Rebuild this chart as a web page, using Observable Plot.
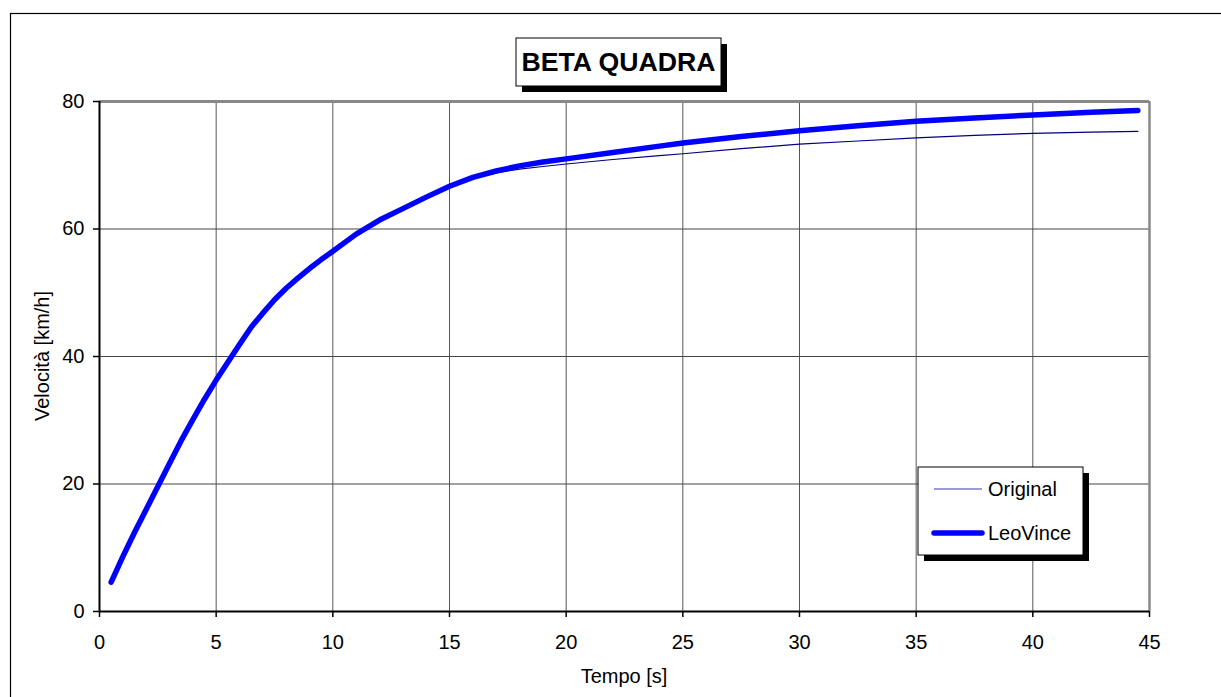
<!DOCTYPE html>
<html><head><meta charset="utf-8">
<script src="https://cdn.jsdelivr.net/npm/d3@7"></script>
<script src="https://cdn.jsdelivr.net/npm/@observablehq/plot@0.6"></script>
<style>body{margin:0;background:#fff;overflow:hidden} svg{display:block}</style>
</head><body><div id="chart"></div>
<script>
// ---- data ----
const chartTitle = "BETA QUADRA";
const xLabel = "Tempo [s]";
const yLabel = "Velocità [km/h]";
const seriesNames = ["Original", "LeoVince"];
const xTicks = [0, 5, 10, 15, 20, 25, 30, 35, 40, 45];
const yTicks = [0, 20, 40, 60, 80];

const timeLeo  = [0.5, 1, 1.5, 2, 2.5, 3, 3.5, 4, 4.5, 5, 5.5, 6, 6.5, 7, 7.5, 8, 8.5, 9, 9.5, 10, 11, 12, 13, 14, 15, 16, 17, 18, 19, 20, 22, 24, 25, 27.5, 30, 32.5, 35, 37.5, 40, 42.5, 44.5];
const speedLeo = [4.6, 8.6, 12.4, 16.0, 19.6, 23.2, 26.8, 30.1, 33.3, 36.3, 39.1, 41.9, 44.6, 46.8, 48.9, 50.7, 52.3, 53.8, 55.2, 56.5, 59.2, 61.4, 63.2, 65.0, 66.7, 68.1, 69.1, 69.9, 70.5, 71.0, 72.0, 73.0, 73.5, 74.5, 75.4, 76.2, 76.9, 77.4, 77.9, 78.3, 78.6];

const timeOrig  = [0.5, 1, 1.5, 2, 2.5, 3, 3.5, 4, 4.5, 5, 5.5, 6, 6.5, 7, 7.5, 8, 8.5, 9, 9.5, 10, 11, 12, 13, 14, 15, 16, 17, 18, 19, 20, 22, 24, 25, 27.5, 30, 32.5, 35, 37.5, 40, 42.5, 44.5];
const speedOrig = [4.6, 8.6, 12.4, 16.0, 19.6, 23.2, 26.8, 30.1, 33.3, 36.3, 39.1, 41.9, 44.6, 46.8, 48.9, 50.7, 52.3, 53.8, 55.2, 56.5, 59.2, 61.4, 63.2, 65.0, 66.6, 67.9, 68.8, 69.4, 69.8, 70.2, 70.9, 71.5, 71.8, 72.6, 73.3, 73.8, 74.3, 74.7, 75.0, 75.2, 75.3];

const leo = timeLeo.map((t, i) => ({t, v: speedLeo[i]}));
const orig = timeOrig.map((t, i) => ({t, v: speedOrig[i]}));

const W = 1221, H = 697;
const font = "Liberation Sans, Arial, Helvetica, sans-serif";

const chart = Plot.plot({
  width: W, height: H,
  marginLeft: 99, marginRight: 72, marginTop: 101, marginBottom: 86,
  x: {domain: [0, 45]},
  y: {domain: [0, 80]},
  style: {fontFamily: font, fontSize: "20px", color: "black", background: "white", overflow: "visible"},
  marks: [
    Plot.gridX(xTicks.filter(d => d > 0 && d < 45), {stroke: "#555", strokeOpacity: 1, strokeWidth: 1}),
    Plot.gridY(yTicks.filter(d => d > 0 && d < 80), {stroke: "#444", strokeOpacity: 1, strokeWidth: 1}),
    Plot.ruleY([80], {stroke: "#888", strokeWidth: 3}),
    Plot.ruleX([45], {stroke: "#888", strokeWidth: 2.5}),
    Plot.line(orig, {x: "t", y: "v", stroke: "#000080", strokeWidth: 1.2}),
    Plot.line(leo, {x: "t", y: "v", stroke: "#0000ff", strokeWidth: 5.5, strokeLinecap: "round", strokeLinejoin: "round"}),
    Plot.ruleX([0], {stroke: "black", strokeWidth: 2}),
    Plot.ruleY([0], {stroke: "black", strokeWidth: 2}),
    Plot.axisX({ticks: xTicks, tickSize: 6, tickPadding: 17, label: null, fontSize: 20, strokeWidth: 1.5}),
    Plot.axisY({ticks: yTicks, tickSize: 6, tickPadding: 9, label: null, fontSize: 20, strokeWidth: 1.5})
  ]
});

const svg = d3.select(chart);
// outer chart-area border
svg.append("rect").attr("x", 10.5).attr("y", 13.5).attr("width", 1300).attr("height", 800)
  .attr("fill", "none").attr("stroke", "black").attr("stroke-width", 1.2);

// axis titles
svg.append("text").attr("x", 624).attr("y", 683).attr("text-anchor", "middle")
  .attr("font-family", font).attr("font-size", 20).attr("fill", "black").text(xLabel);
svg.append("text").attr("transform", "translate(49,356) rotate(-90)").attr("text-anchor", "middle")
  .attr("font-family", font).attr("font-size", 20).attr("fill", "black").text(yLabel);

// title box
const tb = {x: 516, y: 38, w: 205, h: 48};
svg.append("rect").attr("x", tb.x + 6).attr("y", tb.y + 6).attr("width", tb.w).attr("height", tb.h).attr("fill", "black");
svg.append("rect").attr("x", tb.x).attr("y", tb.y).attr("width", tb.w).attr("height", tb.h)
  .attr("fill", "white").attr("stroke", "black").attr("stroke-width", 1);
svg.append("text").attr("x", tb.x + tb.w / 2).attr("y", 71).attr("text-anchor", "middle")
  .attr("font-family", font).attr("font-size", 25).attr("font-weight", "bold").attr("fill", "black")
  .attr("textLength", 194).attr("lengthAdjust", "spacingAndGlyphs").text(chartTitle);

// legend
const lg = {x: 918, y: 467, w: 165, h: 88};
svg.append("rect").attr("x", lg.x + 6).attr("y", lg.y + 6).attr("width", lg.w).attr("height", lg.h).attr("fill", "black");
svg.append("rect").attr("x", lg.x).attr("y", lg.y).attr("width", lg.w).attr("height", lg.h)
  .attr("fill", "white").attr("stroke", "black").attr("stroke-width", 1);
const legendStyles = [
  {stroke: "#3a3aa8", width: 1.2, y: 489},
  {stroke: "#0000ff", width: 5.5, y: 533}
];
seriesNames.forEach((name, i) => {
  const s = legendStyles[i];
  svg.append("line").attr("x1", 934).attr("x2", 982).attr("y1", s.y).attr("y2", s.y)
    .attr("stroke", s.stroke).attr("stroke-width", s.width).attr("stroke-linecap", i ? "round" : "butt");
  svg.append("text").attr("x", 988).attr("y", s.y + 7).attr("text-anchor", "start")
    .attr("font-family", font).attr("font-size", 20).attr("fill", "black").text(name);
});

document.getElementById("chart").appendChild(chart);
</script>
</body></html>
